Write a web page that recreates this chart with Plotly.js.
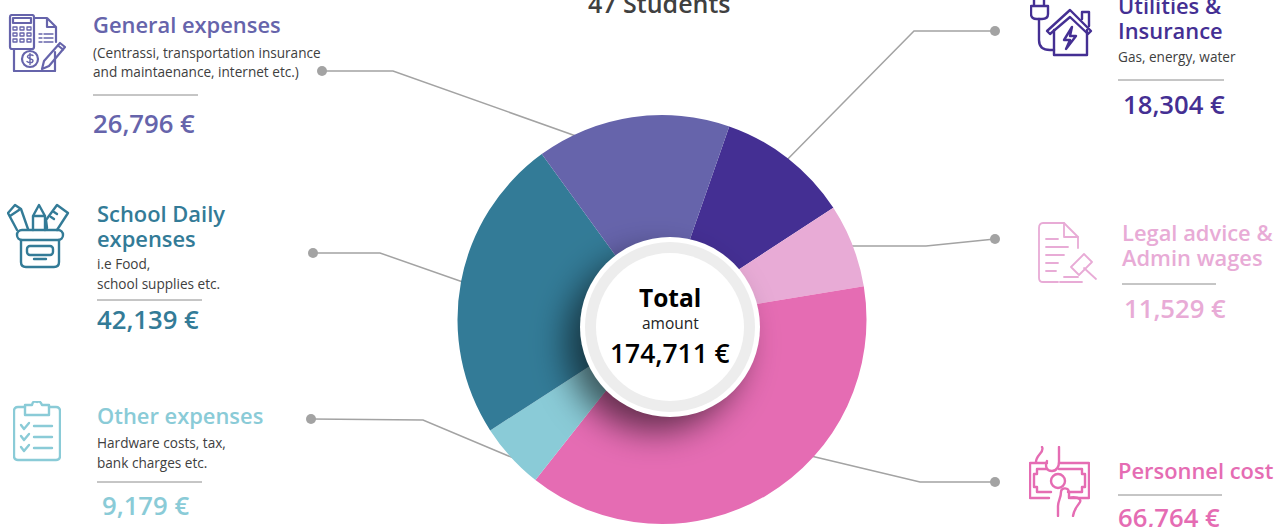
<!DOCTYPE html>
<html>
<head>
<meta charset="utf-8">
<script src="https://cdn.plot.ly/plotly-3.0.1.min.js"></script>
<style>html,body{margin:0;padding:0;background:#fff;overflow:hidden}#chart{width:1285px;height:527px}</style>
</head>
<body>
<div id="chart"></div>
<script>
// ---- data ----
var categories = ['Utilities & Insurance', 'Legal advice & Admin wages', 'Personnel cost', 'Other expenses', 'School Daily expenses', 'General expenses'];
var amounts = [18304, 11529, 66764, 9179, 42139, 26796];
var amountLabels = ['18,304 €', '11,529 €', '66,764 €', '9,179 €', '42,139 €', '26,796 €'];
var totalLabel = '174,711 €';
var subtitle = '47 Students';

// ---- styling / layout ----
var W = 1285, H = 527;
var sliceColors = ['#442f93', '#e8abd6', '#e56cb3', '#8acbd7', '#337b97', '#6664ab'];
var FONT = '"Open Sans", "Noto Sans", sans-serif';
var px = function (x) { return x / W; };
var py = function (y) { return 1 - y / H; };

var annotations = [];
function txt(text, x, base, size, color, weight, anchor) {
  annotations.push({
    text: text, xref: 'paper', yref: 'paper', x: px(x), y: py(base - size * 0.36),
    xanchor: anchor || 'left', yanchor: 'middle', showarrow: false, borderpad: 0,
    align: anchor === 'center' ? 'center' : 'left',
    font: { family: FONT, size: size, color: color, weight: weight || 400 }
  });
}
var HEAD = 21.9, BODY = 13.6, AMT = 25.7, DARK = '#404040';
txt(subtitle, 660, 12, 25, DARK, 600, 'center');

txt('General expenses', 92, 32, HEAD, sliceColors[5], 600);
txt('(Centrassi, transportation insurance', 92, 57.5, BODY, DARK);
txt('and maintaenance, internet etc.)', 92, 76.5, BODY, DARK);
txt(amountLabels[5], 92, 132.5, AMT, sliceColors[5], 600);

txt('School Daily', 96, 221, HEAD, sliceColors[4], 600);
txt('expenses', 96, 246, HEAD, sliceColors[4], 600);
txt('i.e Food,', 96, 268, BODY, DARK);
txt('school supplies etc.', 96, 288, BODY, DARK);
txt(amountLabels[4], 96, 329, AMT, sliceColors[4], 600);

txt('Other expenses', 96, 423, HEAD, sliceColors[3], 600);
txt('Hardware costs, tax,', 96, 447.5, BODY, DARK);
txt('bank charges etc.', 96, 467, BODY, DARK);
txt(amountLabels[3], 101, 515, AMT, sliceColors[3], 600);

txt('Utilities &', 1117, 13, HEAD, sliceColors[0], 600);
txt('Insurance', 1117, 38, HEAD, sliceColors[0], 600);
txt('Gas, energy, water', 1117, 61.5, BODY, DARK);
txt(amountLabels[0], 1122, 114, AMT, sliceColors[0], 600);

txt('Legal advice &', 1121, 240, HEAD, sliceColors[1], 600);
txt('Admin wages', 1121, 265, HEAD, sliceColors[1], 600);
txt(amountLabels[1], 1123, 318, AMT, sliceColors[1], 600);

txt('Personnel cost', 1117, 478, HEAD, sliceColors[2], 600);
txt(amountLabels[2], 1117, 527, AMT, sliceColors[2], 600);

txt('Total', 670, 306, 24.5, '#000', 700, 'center');
txt('amount', 670, 329, 15.5, '#222', 400, 'center');
txt(totalLabel, 670, 363, 26.4, '#000', 600, 'center');

// leader lines
var shapes = [];
function poly(points, color, width, layer) {
  var d = points.map(function (p, i) { return (i ? 'L' : 'M') + px(p[0]) + ',' + py(p[1]); }).join(' ');
  shapes.push({ type: 'path', path: d, xref: 'paper', yref: 'paper', layer: layer || 'below', line: { color: color, width: width } });
}
function circle(cx, cy, r, fill, layer) {
  shapes.push({ type: 'circle', xref: 'paper', yref: 'paper', x0: px(cx - r), x1: px(cx + r), y0: py(cy + r), y1: py(cy - r),
    fillcolor: fill, line: { width: 0 }, layer: layer || 'above' });
}
var LEAD = '#a3a3a3';
var leaders = [
  [[322, 71], [393, 71], [590, 141]],
  [[313, 253], [380, 253], [480, 288]],
  [[311, 419], [423, 420], [530, 465]],
  [[995, 31], [914, 31], [775, 172]],
  [[995, 239], [926, 246], [835, 246]],
  [[995, 482], [920, 482], [790, 451]]
];
leaders.forEach(function (l) {
  poly(l, LEAD, 1.5);
  circle(l[0][0], l[0][1], 5, LEAD, 'below');
});
[[93, 198, 95], [97, 202, 300], [97, 202, 482], [1118, 1224, 80], [1122, 1216, 284], [1118, 1222, 495]].forEach(function (r) {
  poly([[r[0], r[2]], [r[1], r[2]]], '#8c8c8c', 1, 'above');
});

// centre badge
circle(670, 327, 90, '#ffffff');
circle(670, 327, 85, '#ededed');
circle(670, 327, 74, '#ffffff');

// icons & shadow, as inline svg pictures
function svgImage(inner, x, y, w, h) {
  var s = '<svg xmlns="http://www.w3.org/2000/svg" width="' + w + '" height="' + h + '" viewBox="0 0 ' + w + ' ' + h + '">' + inner + '</svg>';
  return { source: 'data:image/svg+xml;charset=utf-8,' + encodeURIComponent(s), xref: 'paper', yref: 'paper',
    x: px(x), y: py(y), sizex: w / W, sizey: h / H, xanchor: 'left', yanchor: 'top', sizing: 'stretch', layer: 'above' };
}
function icon(color, body, x, y, w, h, sw) {
  return svgImage('<g fill="none" stroke="' + color + '" stroke-width="' + (sw || 2) + '" stroke-linecap="round" stroke-linejoin="round">' + body + '</g>', x, y, w, h);
}
var images = [];
// shadow
images.push(svgImage('<defs><filter id="b" x="-50%" y="-50%" width="200%" height="200%"><feGaussianBlur stdDeviation="17"/></filter></defs>' +
  '<circle cx="150" cy="150" r="88" fill="#000" fill-opacity="0.58" filter="url(#b)"/>', 505, 193, 300, 300));

images.push(icon(sliceColors[5],
  '<rect x="2" y="1" width="24" height="34" rx="2"/><rect x="5" y="4" width="18" height="5"/>' +
  '<path d="M5 13h4v3h-4zM12 13h4v3h-4zM19 13h4v3h-4zM5 19h4v3h-4zM12 19h4v3h-4zM19 19h4v3h-4zM5 25h4v3h-4zM12 25h4v3h-4zM19 25h4v3h-4z" stroke-width="1.3"/>' +
  '<path d="M26 4H39L48 13V28M39 4V13H48"/><path d="M31 20h3M31 24h3M31 28h3M36 20h9M36 24h9M36 28h9" stroke-width="1.3"/>' +
  '<path d="M6 35V57H47V38"/><circle cx="22" cy="45" r="8"/><path d="M25 41.5c-1-1-5-1.500-5.500 1s6 2 5.500 4.500s-4.500 2-6 .5M22 39.500v11" stroke-width="1.4"/>' +
  '<path d="M34 55L36 47L52 29L57 33L41 52Z"/><path d="M50 31.500L55 35.500"/>', 8, 14, 58, 58, 2.2));

images.push(icon(sliceColors[4],
  '<path d="M10 28L1 11L8 3L14 7L21 27"/><path d="M3 14L12 8"/>' +
  '<path d="M26 28V14L32 3L38 14V28M26 14H38"/>' +
  '<path d="M40 26L39 18L50 3L61 11L50 28M47 10l3 2M44 15l3 2"/>' +
  '<rect x="10" y="28" width="46" height="10" rx="5"/><path d="M14 38V60Q14 65 19 65H47Q52 65 52 60V38"/>' +
  '<rect x="20" y="44" width="26" height="9" rx="3"/><path d="M27 57H39"/>', 7, 202, 63, 67, 2.4));

images.push(icon(sliceColors[3],
  '<path d="M12 6H5Q1 6 1 10V55Q1 59 5 59H43Q47 59 47 55V10Q47 6 43 6H36"/>' +
  '<path d="M12 3V13H36V3H29Q27 -2 24 0Q20 -2 19 3Z" transform="translate(0,1)"/>' +
  '<path d="M8 24l3 4 5-6M8 35l3 4 5-6M8 46l3 4 5-6"/><path d="M21 25H39M21 36H39M21 47H39"/>', 13, 401, 48, 61, 2.4));

images.push(icon(sliceColors[0],
  '<path d="M4 0V6M14 0V6M1 6H18V14Q18 19 12 19H7Q1 19 1 14Z"/><path d="M9 19V40Q9 50 20 50H24"/>' +
  '<path d="M17 31L40 10L61 31L58 34L40 17L20 34Z"/><path d="M52 19V12H59V26"/>' +
  '<path d="M24 30V55H57V30"/><path d="M42 27L34 40H40L36 49L46 36H40Z"/>', 1030, 0, 63, 57, 2.4));

images.push(icon(sliceColors[1],
  '<path d="M20 60H5Q1 60 1 56V6Q1 1 5 1H26L40 15V26"/><path d="M26 1V15H40"/>' +
  '<path d="M8 17H20M8 25H30M8 33H26M8 41H20M8 49H18"/>' +
  '<path d="M33 45L46 32L54 40L41 53Z"/><path d="M46 46L58 57"/><path d="M22 60H44M26 55H40"/>', 1038, 222, 60, 61, 1.8));

images.push(icon(sliceColors[2],
  '<path d="M18 17H1V52H20M41 52H60V17H30"/>' +
  '<path d="M18 23H8V28H5V41H8V46H22M39 46H53V41H56V28H53V23H30"/>' +
  '<circle cx="29" cy="35" r="7"/>' +
  '<path d="M13 1C16 6 7 9 7 16M30 1V16M18 15c-2 5-1 10 5 10 5 0 7-5 7-9"/>' +
  '<path d="M29 70V60c0-5 3-8 3-14 0-5 8-5 8 1v5c5-2 13 0 11 4-3 5-6 7-7 14"/>', 1029, 446, 61, 71, 2.4));

var trace = {
  type: 'pie',
  labels: categories,
  values: amounts,
  sort: false,
  direction: 'clockwise',
  rotation: 19.2,
  hole: 0.3,
  textinfo: 'none',
  hoverinfo: 'label+value',
  marker: { colors: sliceColors, line: { width: 0 } },
  domain: { x: [px(662 - 204.5), px(662 + 204.5)], y: [py(524), py(115)] },
  showlegend: false
};

Plotly.newPlot('chart', [trace], {
  width: W, height: H,
  margin: { l: 0, r: 0, t: 0, b: 0, pad: 0 },
  paper_bgcolor: '#ffffff',
  plot_bgcolor: '#ffffff',
  font: { family: FONT },
  showlegend: false,
  annotations: annotations,
  shapes: shapes,
  images: images
}, { displayModeBar: false, responsive: false });
</script>
</body>
</html>
